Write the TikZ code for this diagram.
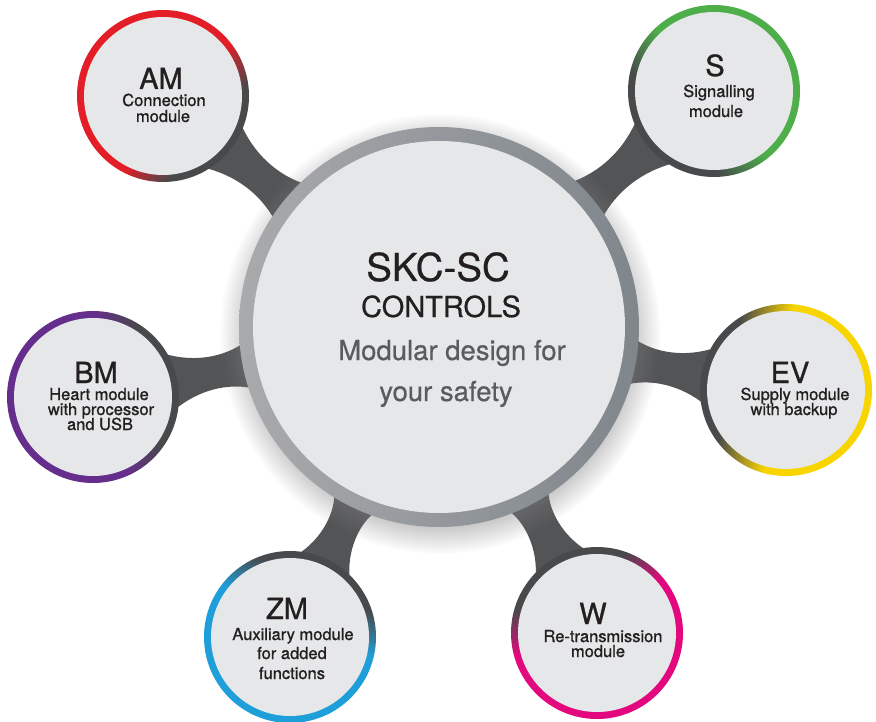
\documentclass[tikz,border=0pt]{standalone}
\usepackage{fontspec}
\setmainfont{TeX Gyre Heros}
\newfontfamily\medfont{TeX Gyre Heros}[FakeBold=1]
\newfontfamily\semifont{TeX Gyre Heros}[FakeBold=0.6]
\usetikzlibrary{calc,shadows,fadings}
\definecolor{ringdark}{HTML}{48494B}
\definecolor{amred}{HTML}{E31E26}
\definecolor{sgreen}{HTML}{4DAE4A}
\definecolor{bmpurple}{HTML}{652D8C}
\definecolor{evyellow}{HTML}{F8D500}
\definecolor{zmblue}{HTML}{1F9FD9}
\definecolor{wmagenta}{HTML}{E4087E}
\definecolor{innergray}{HTML}{E6E7E8}
\definecolor{bridgegray}{HTML}{535456}
\definecolor{rimleft}{HTML}{A9AAAC}
\definecolor{rimright}{HTML}{7F868C}
\definecolor{inktext}{HTML}{231F20}
\definecolor{subgray}{HTML}{5A5B5D}
\pgfdeclarelayer{back}
\pgfsetlayers{back,main}
\pgfdeclareverticalshading{amring}{100bp}{color(0bp)=(ringdark); color(33bp)=(ringdark); color(45bp)=(amred); color(100bp)=(amred)}
\pgfdeclareverticalshading{sring}{100bp}{color(0bp)=(ringdark); color(35bp)=(ringdark); color(49bp)=(sgreen); color(100bp)=(sgreen)}
\pgfdeclareverticalshading{bmring}{100bp}{color(0bp)=(ringdark); color(33bp)=(ringdark); color(45bp)=(bmpurple); color(100bp)=(bmpurple)}
\pgfdeclareverticalshading{evring}{100bp}{color(0bp)=(ringdark); color(33bp)=(ringdark); color(48bp)=(evyellow); color(100bp)=(evyellow)}
\pgfdeclareverticalshading{zmring}{100bp}{color(0bp)=(ringdark); color(33bp)=(ringdark); color(45bp)=(zmblue); color(100bp)=(zmblue)}
\pgfdeclareverticalshading{wring}{100bp}{color(0bp)=(ringdark); color(33bp)=(ringdark); color(45bp)=(wmagenta); color(100bp)=(wmagenta)}
\tikzset{
  satring/.style={circle, minimum size=172pt, inner sep=0pt, shade},
  satin/.style={circle, minimum size=158pt, inner sep=0pt, fill=innergray},
  bridge/.style={fill=bridgegray},
  ttl/.style={font=\medfont\fontsize{29}{29}\selectfont, text=inktext, anchor=base, inner sep=0pt},
  sub/.style={font=\medfont\fontsize{16.5}{16.5}\selectfont, text=inktext, anchor=base, inner sep=0pt},
  bigttl/.style={font=\semifont\fontsize{38.5}{38.5}\selectfont, text=inktext, anchor=base, inner sep=0pt},
  midttl/.style={font=\semifont\fontsize{29}{29}\selectfont, text=inktext, anchor=base, inner sep=0pt},
  slogan/.style={font=\semifont\fontsize{27.5}{27.5}\selectfont, text=subgray, anchor=base, inner sep=0pt}
}
\newcommand\mybridge[2]{%
  \fill[bridge] ($(#1)!86pt!18:(#2)$)
    .. controls ($(#1)!0.31!(#2)!13pt!90:(#2)$) and ($(#1)!0.40!(#2)!13pt!90:(#2)$) ..
    ($(#2)!190pt!-8:(#1)$) -- ($(#2)!190pt!8:(#1)$)
    .. controls ($(#1)!0.40!(#2)!13pt!-90:(#2)$) and ($(#1)!0.31!(#2)!13pt!-90:(#2)$) ..
    ($(#1)!86pt!-18:(#2)$) -- cycle;}
\begin{document}
\begin{tikzpicture}[x=1pt, y=-1pt]
\useasboundingbox (0,0) rectangle (876,722);
\begin{pgfonlayer}{back}
  \fill[white] (0,0) rectangle (876,722);
\end{pgfonlayer}

% satellites
\node[satring, shading=amring, shading angle=50.1] (am) at (163,96) {};
\node[satin] (amin) at (am) {};
\node[satring, shading=sring, shading angle=-49.4] (s) at (714,91) {};
\node[satin] (sin) at (s) {};
\node[satring, shading=bmring, shading angle=101.4] (bm) at (93,397) {};
\node[satin] (bmin) at (bm) {};
\node[satring, shading=evring, shading angle=-100.3] (ev) at (786,390) {};
\node[satin] (evin) at (ev) {};
\node[satring, shading=zmring, shading angle=154.3] (zm) at (290,637) {};
\node[satin] (zmin) at (zm) {};
\node[satring, shading=wring, shading angle=-152.7] (w) at (597,633) {};
\node[satin] (win) at (w) {};

% central circle
\node[circle, minimum size=400pt, inner sep=0pt, left color=rimleft, right color=rimright,
      circular drop shadow={shadow scale=1.1, shadow xshift=1pt, shadow yshift=-6pt, opacity=0.5}] (c) at (439,327) {};
\node[circle, minimum size=372pt, inner sep=0pt, fill=innergray] (cin) at (c) {};

% bridges
\begin{pgfonlayer}{back}
  \mybridge{am}{c}
  \mybridge{s}{c}
  \mybridge{bm}{c}
  \mybridge{ev}{c}
  \mybridge{zm}{c}
  \mybridge{w}{c}
\end{pgfonlayer}

% central texts
\node[bigttl] (t1) at (438,281) {SKC-SC};
\node[midttl] (t2) at (441,317) {CONTROLS};
\node[slogan] (t3) at (452,360) {Modular design for};
\node[slogan] (t4) at (446,401) {your safety};

% AM
\node[ttl] (amt) at (161,89) {AM};
\node[sub] (ams1) at (164,106) {Connection};
\node[sub] (ams2) at (163,122) {module};
% S
\node[ttl] (st) at (715,76) {S};
\node[sub] (ss1) at (719,97) {Signalling};
\node[sub] (ss2) at (716,117) {module};
% BM
\node[ttl] (bmt) at (96,383) {BM};
\node[sub] (bms1) at (99,400) {Heart module};
\node[sub] (bms2) at (101,415) {with processor};
\node[sub] (bms3) at (100,430) {and USB};
% EV
\node[ttl] (evt) at (790,383) {EV};
\node[sub] (evs1) at (795,400) {Supply module};
\node[sub] (evs2) at (794,415) {with backup};
% ZM
\node[ttl] (zmt) at (287,619) {ZM};
\node[sub] (zms1) at (293,640) {Auxiliary module};
\node[sub] (zms2) at (292,659) {for added};
\node[sub] (zms3) at (292,679) {functions};
% W
\node[ttl] (wt) at (593,624) {W};
\node[sub] (ws1) at (603,642) {Re-transmission};
\node[sub] (ws2) at (598,657) {module};
\end{tikzpicture}
\end{document}
